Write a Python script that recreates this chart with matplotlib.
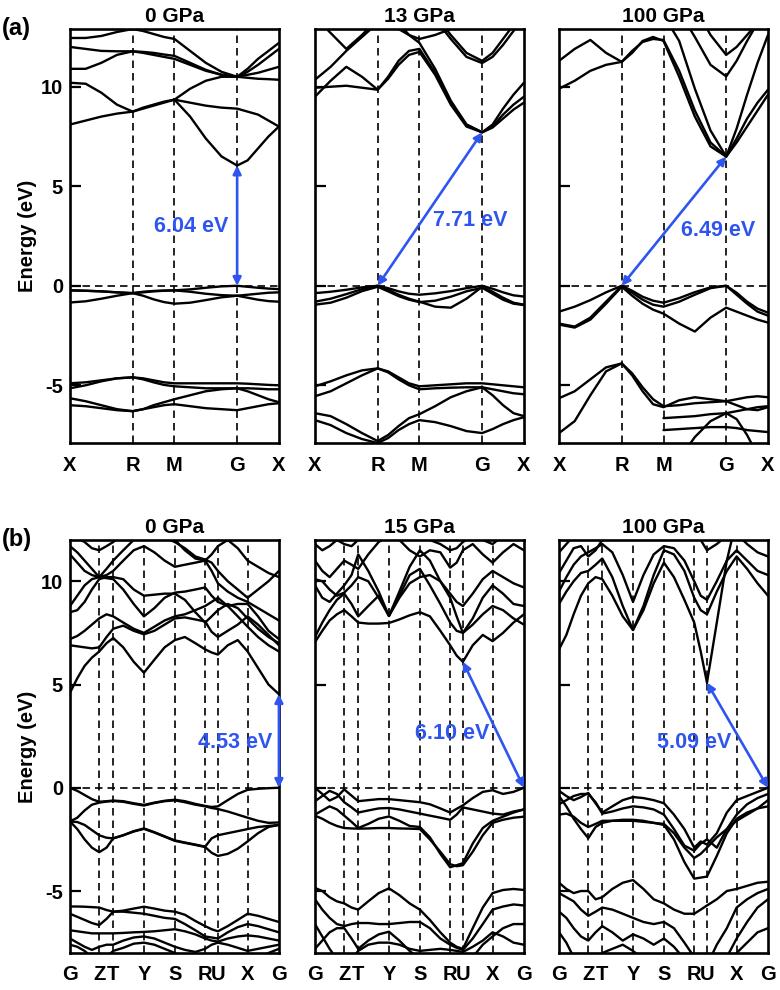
import numpy as np
import matplotlib.pyplot as plt

plt.rcParams['font.family'] = ['Liberation Sans', 'DejaVu Sans']
plt.rcParams['font.weight'] = 'bold'

BLUE = '#2f55f0'
NA = np.nan

# ---- path (a): X-R-M-G-X ----
k_a = [0, .075, .15, .225, .3, .35, .4, .45, .5, .575, .65, .725, .8, .85, .9, .95, 1.0]
sym_a = [0, .3, .5, .8, 1.0]
lab_a = ['X', 'R', 'M', 'G', 'X']

bands_a0 = [
    [-0.23, -0.25, -0.28, -0.33, -0.37, -0.5, -0.68, -0.82, -0.9, -0.85, -0.72, -0.58, -0.5, -0.6, -0.7, -0.77, -0.8],
    [-0.84, -0.78, -0.65, -0.5, -0.37, -0.3, -0.26, -0.24, -0.23, -0.18, -0.1, -0.03, 0.0, -0.05, -0.1, -0.14, -0.17],
    [-0.23, -0.25, -0.28, -0.33, -0.37, -0.33, -0.28, -0.25, -0.23, -0.3, -0.4, -0.47, -0.5, -0.45, -0.4, -0.35, -0.33],
    [-4.9, -4.85, -4.75, -4.65, -4.6, -4.65, -4.75, -4.85, -4.9, -4.9, -4.9, -4.9, -4.9, -4.92, -4.95, -4.98, -5.0],
    [-5.15, -5.0, -4.8, -4.65, -4.6, -4.7, -4.85, -4.98, -5.05, -5.1, -5.15, -5.15, -5.15, -5.15, -5.17, -5.2, -5.2],
    [-5.65, -5.8, -6.0, -6.2, -6.3, -6.2, -6.0, -5.85, -5.7, -5.5, -5.3, -5.2, -5.15, -5.3, -5.5, -5.7, -5.85],
    [-6.0, -6.05, -6.15, -6.25, -6.3, -6.2, -6.1, -6.0, -5.95, -6.05, -6.15, -6.2, -6.25, -6.15, -6.05, -5.95, -5.9],
    [8.1, 8.3, 8.5, 8.65, 8.75, 8.9, 9.05, 9.2, 9.35, 8.5, 7.4, 6.5, 6.04, 6.3, 6.9, 7.5, 8.0],
    [10.2, 10.15, 9.7, 9.1, 8.75, 8.95, 9.1, 9.25, 9.35, 9.2, 9.05, 8.95, 8.9, 8.75, 8.6, 8.3, 8.0],
    [10.9, 10.9, 11.2, 11.6, 11.78, 11.7, 11.6, 11.5, 11.4, 11.1, 10.8, 10.6, 10.5, 10.6, 10.7, 10.85, 11.0],
    [12.0, 11.9, 11.8, 11.78, 11.78, 11.75, 11.7, 11.62, 11.55, 11.2, 10.85, 10.6, 10.5, 10.75, 11.1, 11.5, 11.9],
    [12.45, 12.45, 12.55, 12.75, 12.9, 12.8, 12.65, 12.5, 12.4, 11.8, 11.2, 10.75, 10.5, 10.9, 11.4, 11.8, 12.2],
    [NA, NA, NA, NA, NA, NA, NA, NA, 9.35, 9.9, 10.3, 10.5, 10.5, 10.45, 10.4, 10.38, 10.35],
]

bands_a13 = [
    [-0.37, -0.3, -0.2, -0.08, 0.0, -0.12, -0.28, -0.4, -0.45, -0.38, -0.27, -0.12, 0.0, -0.15, -0.33, -0.48, -0.54],
    [-0.8, -0.65, -0.42, -0.17, 0.0, -0.2, -0.45, -0.65, -0.8, -1.05, -1.1, -0.65, -0.05, -0.3, -0.6, -0.85, -0.95],
    [-0.95, -0.85, -0.6, -0.27, -0.05, -0.28, -0.52, -0.7, -0.82, -0.75, -0.55, -0.28, -0.1, -0.4, -0.7, -0.9, -0.97],
    [-5.05, -4.8, -4.5, -4.25, -4.15, -4.3, -4.6, -4.9, -5.05, -5.0, -4.95, -4.9, -4.9, -4.95, -5.0, -5.05, -5.1],
    [-5.55, -5.3, -4.9, -4.5, -4.15, -4.35, -4.7, -5.0, -5.2, -5.15, -5.12, -5.1, -5.1, -5.2, -5.3, -5.4, -5.45],
    [-6.4, -6.55, -6.95, -7.4, -7.8, -7.5, -7.05, -6.65, -6.45, -6.05, -5.6, -5.3, -5.1, -5.5, -6.0, -6.4, -6.55],
    [-6.75, -7.0, -7.4, -7.7, -7.9, -7.65, -7.25, -6.95, -6.75, -6.85, -7.05, -7.3, -7.4, -7.2, -6.95, -6.75, -6.6],
    [9.5, 10.3, 11.0, 10.5, 9.85, 10.5, 11.3, 11.8, 11.9, 10.7, 9.2, 8.1, 7.71, 8.1, 8.9, 9.6, 10.2],
    [9.95, 10.0, 10.05, 9.95, 9.85, 10.4, 11.1, 11.6, 11.75, 10.6, 9.1, 8.0, 7.71, 8.0, 8.6, 9.1, 9.5],
    [10.35, 11.0, 11.8, 12.5, 13.2, 13.5, 13.2, 12.6, 12.2, 10.9, 9.3, 8.1, 7.71, 7.95, 8.4, 8.85, 9.2],
    [14, 14, 14, 14, 14, 14, 14, 14, 14, 13.4, 12.4, 11.5, 11.19, 11.5, 12.1, 12.8, 13.4],
    [14, 14, 14, 14, 14, 14, 14, 14, 14, 13.6, 12.6, 11.7, 11.3, 11.7, 12.4, 13.1, 13.7],
    [13.5, 12.7, 11.9, 12.6, 13.4, 14, 14, 14, 14, 14, 14, 14, 14, 14, 14, 14, 14],
    [14, 14, 14, 14, 14, 13.5, 12.9, 12.6, 12.4, 12.6, 12.9, 13.5, 14, 14, 14, 14, 14],
]

bands_a100 = [
    [-1.3, -1.05, -0.72, -0.33, 0.0, -0.25, -0.55, -0.75, -0.85, -0.62, -0.32, -0.08, 0.0, -0.35, -0.8, -1.15, -1.35],
    [-1.9, -2.05, -1.6, -0.8, 0.0, -0.35, -0.7, -0.95, -1.05, -0.8, -0.45, -0.12, 0.0, -0.45, -0.9, -1.3, -1.5],
    [-1.95, -2.1, -1.7, -0.9, -0.05, -0.5, -0.9, -1.2, -1.4, -1.9, -2.3, -1.6, -1.1, -1.3, -1.5, -1.7, -1.85],
    [-5.65, -5.3, -4.7, -4.1, -3.9, -4.4, -5.1, -5.7, -6.05, -6.0, -5.9, -5.85, -5.8, -5.7, -5.6, -5.55, -5.6],
    [-7.4, -6.8, -5.5, -4.3, -3.9, -4.5, -5.3, -5.95, -6.1, -5.75, -5.6, -5.7, -5.8, -6.0, -6.2, -6.25, -6.1],
    [-9, -9, -9, -9, -9, -9, -9, -9, -9, -8.7, -7.6, -6.8, -6.4, -6.7, -7.5, -8.5, -9],
    [NA, NA, NA, NA, NA, NA, NA, NA, -6.65, -6.6, -6.55, -6.45, -6.4, -6.3, -6.2, -6.1, -6.05],
    [NA, NA, NA, NA, NA, NA, NA, NA, -7.25, -7.2, -7.15, -7.1, -7.1, -7.15, -7.25, -7.3, -7.35],
    [11.3, 11.9, 12.35, 11.7, 11.25, 11.7, 12.3, 12.5, 12.3, 10.5, 8.5, 7.0, 6.49, 7.4, 8.4, 9.2, 9.85],
    [9.9, 10.3, 10.8, 11.1, 11.25, 11.8, 12.25, 12.4, 12.35, 10.8, 8.8, 7.2, 6.49, 7.2, 8.0, 8.8, 9.6],
    [14, 14, 14, 14, 14, 14, 14, 14, 13.6, 12.3, 9.9, 7.8, 6.49, 7.9, 9.6, 11.2, 12.6],
    [14, 14, 14, 14, 14, 14, 14, 14, 14, 13.8, 12.5, 11.1, 10.52, 11.3, 12.3, 13.2, 14],
    [14, 14, 14, 14, 14, 14, 14, 14, 14, 14, 14, 12.6, 11.6, 12.0, 12.6, 13.2, 14],
]

# ---- path (b): G-Z-T-Y-S-R-U-X-G ----
k_b = [0, .035, .07, .105, .14, .175, .207, .255, .305, .354, .404, .453, .502,
       .55, .6, .647, .678, .708, .755, .803, .85, .9, .95, 1.0]
sym_b = [0, .14, .207, .354, .502, .647, .708, .85, 1.0]
lab_b = ['G', 'Z', 'T', 'Y', 'S', 'R', 'U', 'X', 'G']

bands_b0 = [
    [0.0, -0.15, -0.35, -0.55, -0.68, -0.65, -0.62, -0.65, -0.75, -0.83, -0.72, -0.63, -0.58, -0.65, -0.78, -0.88, -0.93, -0.9, -0.6, -0.3, -0.1, -0.05, -0.02, 0.0],
    [-1.63, -1.45, -1.1, -0.82, -0.72, -0.67, -0.64, -0.68, -0.78, -0.86, -0.74, -0.65, -0.61, -0.7, -0.82, -0.9, -0.98, -1.03, -1.15, -1.3, -1.45, -1.6, -1.7, -1.68],
    [-1.63, -1.66, -1.8, -2.05, -2.3, -2.42, -2.45, -2.3, -2.1, -1.97, -2.15, -2.35, -2.55, -2.65, -2.75, -2.85, -2.45, -2.3, -2.2, -2.1, -2.0, -1.9, -1.85, -1.8],
    [-1.63, -2.0, -2.5, -2.9, -3.12, -2.9, -2.45, -2.3, -2.12, -1.99, -2.17, -2.37, -2.57, -2.67, -2.77, -2.87, -3.15, -3.3, -3.2, -2.95, -2.6, -2.2, -1.9, -1.8],
    [-5.75, -5.75, -5.76, -5.78, -5.8, -5.92, -6.0, -5.95, -5.85, -5.76, -5.85, -5.95, -6.0, -6.15, -6.45, -6.7, -6.85, -6.95, -6.7, -6.4, -6.1, -6.2, -6.35, -6.5],
    [-6.1, -6.25, -6.4, -6.55, -6.65, -6.35, -6.0, -6.0, -6.05, -6.1, -6.2, -6.3, -6.35, -6.6, -6.9, -7.2, -7.25, -7.3, -7.0, -6.75, -6.6, -6.7, -6.85, -7.0],
    [-6.9, -6.95, -7.0, -7.05, -7.05, -7.05, -7.05, -7.03, -7.0, -6.98, -6.95, -6.9, -6.85, -6.95, -7.1, -7.3, -7.4, -7.45, -7.3, -7.2, -7.15, -7.2, -7.3, -7.4],
    [-7.3, -7.5, -7.7, -7.85, -7.7, -7.6, -7.6, -7.4, -7.25, -7.2, -7.3, -7.5, -7.7, -7.85, -7.95, -7.8, -7.6, -7.5, -7.6, -7.75, -7.9, -7.8, -7.7, -7.6],
    [-7.6, -7.7, -7.9, -8.2, -8.4, -8.2, -7.9, -7.75, -7.55, -7.5, -7.6, -7.8, -8.0, -8.3, -8.5, -8.4, -8.2, -8.1, -8.2, -8.4, -8.5, -8.3, -8.0, -7.8],
    [4.6, 5.3, 5.9, 6.3, 6.6, 7.0, 7.25, 6.8, 6.1, 5.57, 6.2, 6.8, 7.15, 7.3, 7.0, 6.7, 6.55, 6.45, 6.9, 7.15, 6.6, 5.8, 5.0, 4.53],
    [6.9, 6.85, 6.8, 6.75, 6.8, 7.3, 7.7, 7.85, 7.6, 7.43, 7.6, 7.9, 8.2, 8.25, 8.15, 8.05, 7.55, 7.3, 7.6, 7.9, 8.3, 7.9, 7.4, 6.9],
    [7.2, 7.35, 7.6, 7.9, 8.2, 8.4, 8.3, 8.0, 7.7, 7.5, 7.8, 8.1, 8.3, 8.4, 8.6, 8.8, 9.0, 9.2, 8.8, 8.3, 7.8, 7.3, 6.9, 6.6],
    [8.8, 9.3, 9.8, 10.1, 10.2, 10.15, 10.1, 9.6, 8.9, 8.3, 8.7, 9.2, 9.45, 9.5, 9.6, 9.7, 9.3, 9.0, 8.8, 8.9, 8.9, 8.3, 7.6, 7.2],
    [8.5, 8.6, 9.0, 9.6, 10.1, 10.2, 10.2, 10.1, 9.6, 9.3, 9.35, 9.4, 9.4, 9.1, 8.5, 8.0, 8.3, 8.6, 8.9, 8.7, 8.2, 7.7, 7.3, 7.0],
    [11.3, 10.9, 10.5, 10.3, 10.2, 10.3, 10.5, 11.0, 11.5, 11.7, 11.4, 11.0, 10.7, 10.8, 10.9, 11.0, 10.5, 9.9, 9.5, 9.2, 9.0, 8.7, 8.4, 8.1],
    [11.7, 11.4, 11.0, 10.6, 10.2, 10.6, 11.0, 11.5, 12.0, 12.3, 12.3, 12.1, 11.9, 11.6, 11.2, 11.05, 10.9, 10.5, 10.0, 9.6, 9.2, 9.6, 10.0, 10.5],
    [12.3, 12.1, 11.9, 11.6, 11.5, 11.7, 11.9, 12.3, 12.6, 12.8, 12.6, 12.3, 12.0, 11.5, 11.1, 11.0, 11.3, 11.7, 12.0, 11.6, 11.0, 10.7, 10.4, 10.2],
]

bands_b15 = [
    [0.0, -0.3, -0.62, -0.45, -0.08, -0.38, -0.65, -0.6, -0.55, -0.55, -0.6, -0.65, -0.7, -0.8, -1.0, -1.2, -1.02, -0.85, -0.5, -0.2, -0.12, -0.3, -0.2, 0.0],
    [-0.65, -0.4, -0.15, -0.3, -0.7, -0.95, -1.2, -1.1, -1.0, -0.98, -1.05, -1.15, -1.25, -1.35, -1.45, -1.55, -1.3, -0.95, -1.05, -1.15, -1.25, -1.3, -1.15, -1.05],
    [-1.3, -1.1, -0.9, -1.05, -1.35, -1.65, -1.95, -1.75, -1.5, -1.39, -1.6, -1.85, -1.9, -2.4, -3.2, -3.85, -3.75, -3.65, -2.7, -1.95, -1.6, -1.4, -1.2, -1.05],
    [-1.35, -1.5, -1.7, -1.85, -1.95, -1.97, -1.98, -1.97, -1.95, -1.95, -1.97, -1.98, -2.0, -2.5, -3.1, -3.7, -3.8, -3.75, -3.1, -2.3, -1.7, -1.55, -1.45, -1.4],
    [-4.85, -5.0, -5.3, -5.5, -5.6, -5.8, -5.9, -5.5, -5.1, -4.87, -5.2, -5.6, -5.9, -6.4, -7.0, -7.5, -7.7, -7.8, -6.8, -5.8, -5.1, -4.95, -4.9, -4.95],
    [-5.4, -5.9, -6.3, -6.6, -6.7, -6.6, -6.55, -6.55, -6.6, -6.6, -6.55, -6.5, -6.5, -6.8, -7.3, -7.6, -7.75, -7.85, -7.3, -6.6, -5.9, -5.75, -5.65, -5.7],
    [-7.8, -7.4, -7.0, -6.8, -6.8, -7.3, -7.8, -7.4, -7.1, -6.97, -7.4, -7.9, -8.3, -8.6, -8.6, -8.6, -8.6, -8.6, -8.2, -7.6, -7.2, -6.8, -6.6, -6.6],
    [-6.6, -7.2, -7.8, -8.3, -8.6, -8.3, -7.9, -7.6, -7.5, -7.5, -7.6, -7.8, -7.9, -7.85, -7.8, -7.85, -7.9, -7.95, -7.7, -7.4, -7.0, -7.2, -7.5, -7.6],
    [7.05, 7.6, 8.1, 8.4, 8.6, 8.3, 8.0, 7.95, 7.95, 7.98, 8.15, 8.35, 8.5, 8.3, 7.6, 6.9, 6.4, 6.1, 6.9, 7.4, 7.1, 7.5, 8.0, 8.4],
    [7.3, 8.0, 8.6, 9.1, 9.4, 8.9, 8.3, 8.8, 9.3, 8.32, 9.3, 10.3, 10.6, 9.8, 8.9, 8.0, 7.6, 7.5, 7.9, 8.4, 8.8, 8.6, 8.2, 7.9],
    [9.8, 9.2, 9.0, 9.4, 9.8, 10.3, 11.3, 10.5, 9.5, 8.32, 9.5, 10.7, 11.5, 11.0, 10.0, 9.2, 8.3, 7.5, 8.2, 9.2, 9.8, 9.4, 8.9, 8.8],
    [10.1, 10.0, 9.6, 9.3, 9.45, 9.8, 10.2, 10.0, 9.2, 8.32, 9.2, 9.9, 10.2, 10.3, 10.0, 9.4, 9.0, 8.8, 9.4, 10.1, 10.5, 10.2, 9.9, 9.7],
    [11.0, 10.5, 10.2, 10.6, 11.0, 10.8, 10.6, 11.3, 11.9, 12.2, 12.0, 11.5, 11.2, 11.5, 11.4, 10.66, 10.9, 11.5, 11.8, 11.3, 10.9, 11.4, 11.8, 11.5],
    [11.8, 11.5, 11.7, 12.0, 11.8, 11.7, 12.0, 12.5, 12.8, 13, 12.8, 12.5, 12.2, 12.0, 11.8, 11.5, 11.6, 11.9, 12.2, 12.0, 11.8, 12.2, 12.5, 12.3],
]

bands_b100 = [
    [-0.15, -0.4, -0.6, -0.45, -0.25, -0.75, -1.2, -0.9, -0.6, -0.45, -0.5, -0.6, -0.75, -1.3, -2.0, -2.9, -2.6, -2.75, -2.2, -1.2, -0.6, -0.4, -0.2, 0.0],
    [-0.8, -0.6, -0.4, -0.3, -0.3, -0.7, -1.25, -1.15, -1.0, -0.9, -0.95, -1.05, -1.3, -2.0, -2.8, -3.05, -2.7, -2.5, -2.9, -2.0, -1.3, -0.8, -0.5, -0.3],
    [-0.4, -0.9, -1.5, -2.0, -2.44, -1.9, -1.7, -1.6, -1.55, -1.55, -1.6, -1.7, -1.8, -2.5, -3.6, -4.4, -4.35, -4.3, -3.3, -2.2, -1.5, -1.2, -1.0, -0.9],
    [-1.3, -1.25, -1.4, -1.7, -1.9, -1.75, -1.6, -1.6, -1.6, -1.6, -1.65, -1.7, -1.75, -2.2, -2.9, -3.4, -3.2, -2.9, -2.4, -2.0, -1.6, -1.3, -1.0, -0.6],
    [-4.6, -4.9, -5.1, -5.0, -5.0, -5.4, -5.3, -4.9, -4.6, -4.47, -4.9, -5.4, -5.6, -5.9, -6.1, -6.1, -5.9, -5.7, -5.4, -5.0, -4.9, -4.75, -4.6, -4.55],
    [-5.1, -5.3, -5.5, -5.9, -6.2, -6.0, -5.8, -5.9, -6.1, -6.3, -6.5, -6.6, -6.5, -6.8, -7.5, -8.2, -8.5, -8.6, -7.6, -6.8, -5.8, -5.4, -5.1, -4.9],
    [-6.0, -6.3, -6.8, -7.2, -7.4, -7.0, -6.7, -7.0, -7.4, -7.1, -7.3, -7.6, -7.3, -7.7, -8.3, -8.8, -9, -9, -8.8, -8.2, -7.3, -6.5, -5.8, -5.4],
    [-7.0, -7.5, -8.2, -8.6, -8.8, -8.4, -8.0, -7.8, -7.6, -7.9, -8.3, -8.6, -8.8, -9, -9, -9, -9, -9, -9, -8.7, -8.0, -7.5, -7.0, -6.8],
    [6.7, 7.4, 8.4, 9.3, 9.9, 10.2, 10.1, 9.3, 8.3, 7.64, 8.6, 9.9, 10.9, 10.2, 9.1, 8.0, 6.6, 5.09, 8.0, 11.0, 13, 13, 13, 13],
    [8.9, 9.5, 10.0, 10.4, 10.5, 10.8, 11.1, 10.2, 8.8, 7.64, 8.8, 10.3, 11.5, 11.3, 10.5, 9.2, 8.6, 8.4, 9.5, 10.5, 11.2, 10.6, 9.9, 9.3],
    [9.5, 10.2, 10.8, 11.2, 11.4, 11.6, 11.8, 11.4, 10.3, 9.0, 10.3, 11.3, 11.7, 11.6, 11.0, 10.0, 9.3, 9.1, 10.0, 11.0, 11.5, 11.0, 10.5, 10.3],
    [10.4, 11.0, 11.6, 11.7, 11.2, 11.5, 12.0, 12.5, 12.8, 13, 12.8, 12.3, 12.0, 12.3, 12.6, 12.5, 12.0, 11.5, 11.8, 12.2, 12.3, 11.8, 11.4, 11.2],
    [11.4, 11.8, 12.2, 12.5, 12.6, 12.7, 12.8, 13, 13, 13, 13, 12.8, 12.6, 12.8, 13, 13, 12.8, 12.5, 12.3, 12.4, 12.6, 12.5, 12.2, 12.0],
]

titles_a = ['0 GPa', '13 GPa', '100 GPa']
titles_b = ['0 GPa', '15 GPa', '100 GPa']

# gap arrows: start (k, E), end (k, E), label, label position
gaps_a = [((0.8, 0.0), (0.8, 6.04), '6.04 eV', (0.58, 3.0)),
          ((0.3, 0.0), (0.8, 7.71), '7.71 eV', (0.745, 3.3)),
          ((0.3, 0.0), (0.8, 6.49), '6.49 eV', (0.76, 2.8))]
gaps_b = [((1.0, 0.0), (1.0, 4.53), '4.53 eV', (0.79, 2.2)),
          ((1.0, 0.0), (0.708, 6.10), '6.10 eV', (0.655, 2.65)),
          ((1.0, 0.0), (0.708, 5.09), '5.09 eV', (0.645, 2.2))]


def draw_panel(ax, k, bands, sym, labels, ylim, title, gap, first):
    for b in bands:
        ax.plot(k, b, color='k', lw=1.7, solid_capstyle='round',
                solid_joinstyle='round')
    for x in sym[1:-1]:
        ax.axvline(x, color='k', lw=1.2, ls=(0, (4.5, 3)))
    ax.axhline(0, color='k', lw=1.2, ls=(0, (4.5, 3)))
    ax.set_xlim(0, 1)
    ax.set_ylim(*ylim)
    ax.set_xticks(sym)
    ax.set_xticklabels(labels, fontsize=14.5, fontweight='bold')
    ax.tick_params(axis='x', length=0, pad=9)
    ax.set_yticks([-5, 0, 5, 10])
    ax.set_yticklabels(['-5', '0', '5', '10'], fontsize=14.5, fontweight='bold')
    ax.tick_params(axis='y', direction='in', length=8, width=1.6, left=True,
                   right=False, labelleft=first, pad=5)
    for s in ax.spines.values():
        s.set_linewidth(1.9)
    ax.set_title(title, fontsize=15, fontweight='bold', pad=5)
    (x0, y0), (x1, y1), txt, (tx, ty) = gap
    ax.annotate('', xy=(x1, y1), xytext=(x0, y0),
                arrowprops=dict(arrowstyle='<|-|>', color=BLUE, lw=1.9,
                                mutation_scale=12, shrinkA=0, shrinkB=0),
                annotation_clip=False)
    ax.text(tx, ty, txt, color=BLUE, fontsize=15.5, fontweight='bold',
            ha='center', va='center')
    if first:
        ax.set_ylabel('Energy (eV)', fontsize=14.5, fontweight='bold', labelpad=3)


fig = plt.figure(figsize=(7.8, 9.9), dpi=100)
lefts = [0.0897, 0.4038, 0.7167]
w = 0.2679
row_a = [bands_a0, bands_a13, bands_a100]
row_b = [bands_b0, bands_b15, bands_b100]
for i in range(3):
    ax = fig.add_axes([lefts[i], 0.5525, w, 0.4182])
    draw_panel(ax, k_a, row_a[i], sym_a, lab_a, (-7.9, 12.9), titles_a[i], gaps_a[i], i == 0)
    ax = fig.add_axes([lefts[i], 0.0374, w, 0.4172])
    draw_panel(ax, k_b, row_b[i], sym_b, lab_b, (-8, 12), titles_b[i], gaps_b[i], i == 0)

fig.text(0.003, 0.971, '(a)', fontsize=17, fontweight='bold', va='center')
fig.text(0.003, 0.455, '(b)', fontsize=17, fontweight='bold', va='center')

fig.savefig('out.png', dpi=100)
